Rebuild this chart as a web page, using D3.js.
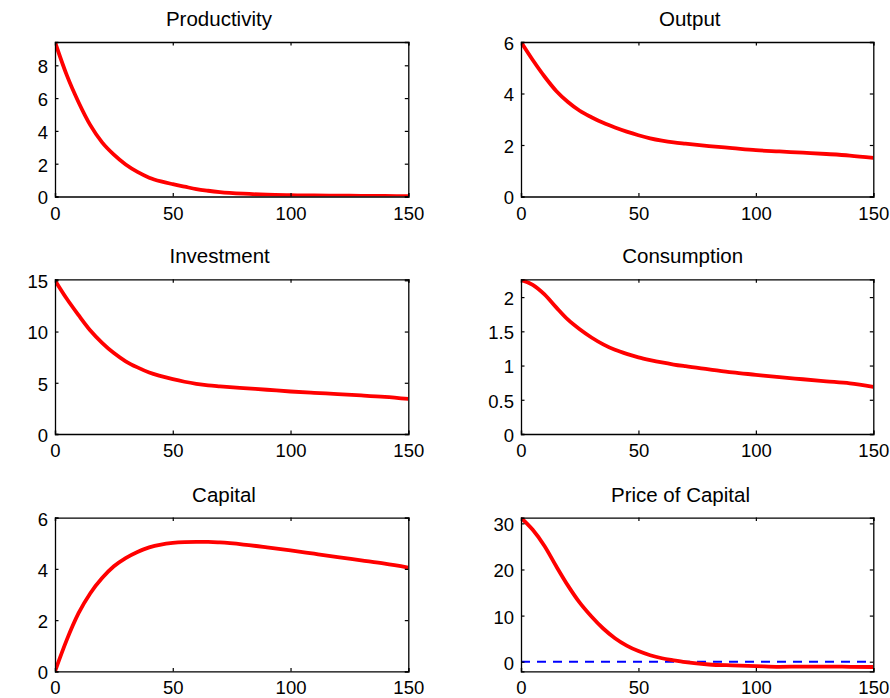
<!DOCTYPE html>
<html>
<head>
<meta charset="utf-8">
<script src="https://cdn.jsdelivr.net/npm/d3@7"></script>
<style>
  html, body { margin: 0; padding: 0; background: #fff; }
  svg { display: block; }
  text { font-family: "Liberation Sans", Arial, Helvetica, sans-serif; fill: #000; }
</style>
</head>
<body>
<svg id="chart" width="890" height="698"></svg>
<script>
// ---- Data ----
const periods = [0, 5, 10, 15, 20, 25, 30, 35, 40, 45, 50, 55, 60, 65, 70, 80, 90, 100, 110, 120, 130, 140, 150];

const productivity = [9.42, 7.4, 5.75, 4.35, 3.3, 2.55, 1.95, 1.5, 1.15, 0.92, 0.75, 0.6, 0.45, 0.35, 0.27, 0.17, 0.11, 0.08, 0.06, 0.05, 0.04, 0.03, 0.02];
const output       = [6.0, 5.3, 4.66, 4.1, 3.67, 3.33, 3.08, 2.86, 2.68, 2.52, 2.38, 2.26, 2.17, 2.1, 2.05, 1.96, 1.88, 1.8, 1.75, 1.7, 1.65, 1.59, 1.5];
const investment   = [15.0, 13.2, 11.6, 10.1, 8.9, 7.9, 7.1, 6.5, 6.0, 5.65, 5.35, 5.1, 4.9, 4.75, 4.65, 4.48, 4.32, 4.15, 4.02, 3.9, 3.77, 3.62, 3.42];
const consumption  = [2.25, 2.18, 2.04, 1.85, 1.67, 1.53, 1.41, 1.31, 1.23, 1.17, 1.12, 1.08, 1.045, 1.015, 0.99, 0.945, 0.9, 0.865, 0.83, 0.8, 0.77, 0.74, 0.69];
const capital      = [0.0, 1.23, 2.27, 3.05, 3.64, 4.1, 4.42, 4.66, 4.84, 4.95, 5.01, 5.04, 5.05, 5.05, 5.03, 4.95, 4.84, 4.72, 4.59, 4.46, 4.33, 4.2, 4.05];
const priceCapital = [31.2, 28.6, 25.1, 20.7, 16.5, 12.8, 9.8, 7.2, 5.1, 3.5, 2.3, 1.4, 0.75, 0.3, -0.1, -0.6, -0.8, -0.95, -1.1, -1.05, -1.05, -1.1, -1.15];

const titles = ["Productivity", "Output", "Investment", "Consumption", "Capital", "Price of Capital"];
const seriesList = [productivity, output, investment, consumption, capital, priceCapital];
const yDomains = [[0, 9.42], [0, 6.0], [0, 15.1], [0, 2.26], [0, 6.0], [-2.1, 31.25]];
const yTickValues = [[0, 2, 4, 6, 8], [0, 2, 4, 6], [0, 5, 10, 15], [0, 0.5, 1, 1.5, 2], [0, 2, 4, 6], [0, 10, 20, 30]];
const xTickValues = [0, 50, 100, 150];
const zeroLinePanel = 5;

// ---- Layout ----
const colX = [[55, 408.3], [521, 873.3]];
const rowY = [[42, 196.5], [279.3, 434], [517.6, 671.4]];

const svg = d3.select("#chart");
const tickLen = 3.5;
const tickFont = '"Liberation Sans Narrow", "Liberation Sans", Arial, sans-serif';

seriesList.forEach((data, i) => {
  const col = i % 2, row = Math.floor(i / 2);
  const [x0, x1] = colX[col];
  const [y0, y1] = rowY[row];

  const x = d3.scaleLinear().domain([0, 150]).range([x0, x1]);
  const y = d3.scaleLinear().domain(yDomains[i]).range([y1, y0]);

  const g = svg.append("g");

  const clipId = "clip" + i;
  g.append("clipPath").attr("id", clipId)
    .append("rect").attr("x", x0).attr("y", y0).attr("width", x1 - x0).attr("height", y1 - y0);

  if (i === zeroLinePanel) {
    g.append("line")
      .attr("x1", x(0)).attr("x2", x(150))
      .attr("y1", y(0)).attr("y2", y(0))
      .attr("stroke", "#0000ff").attr("stroke-width", 2)
      .attr("stroke-dasharray", "9,7");
  }

  const line = d3.line()
    .x((d, k) => x(periods[k]))
    .y(d => y(d))
    .curve(d3.curveMonotoneX);

  g.append("path")
    .datum(data)
    .attr("d", line)
    .attr("fill", "none")
    .attr("stroke", "#ff0000")
    .attr("stroke-width", 3.8)
    .attr("stroke-linejoin", "round")
    .attr("clip-path", `url(#${clipId})`);

  const axBottom = d3.axisBottom(x).tickValues(xTickValues).tickSize(-tickLen).tickPadding(0).tickFormat(d3.format("d"));
  const axTop = d3.axisTop(x).tickValues(xTickValues).tickSize(-tickLen).tickFormat("");
  const axLeft = d3.axisLeft(y).tickValues(yTickValues[i]).tickSize(-tickLen).tickPadding(7).tickFormat(d => d3.format("")(d));
  const axRight = d3.axisRight(y).tickValues(yTickValues[i]).tickSize(-tickLen).tickFormat("");

  const gb = g.append("g").attr("transform", `translate(0,${y1})`).call(axBottom);
  const gt = g.append("g").attr("transform", `translate(0,${y0})`).call(axTop);
  const gl = g.append("g").attr("transform", `translate(${x0},0)`).call(axLeft);
  const gr = g.append("g").attr("transform", `translate(${x1},0)`).call(axRight);

  [gb, gt, gl, gr].forEach(a => {
    a.select(".domain").attr("stroke", "#000").attr("stroke-width", 1.3);
    a.selectAll(".tick line").attr("stroke", "#000").attr("stroke-width", 1.2);
    a.selectAll("text").style("font-size", "18.5px").style("font-family", tickFont).attr("fill", "#000");
  });
  gb.selectAll("text").attr("y", 23).attr("dy", 0);
  gl.selectAll("text").attr("dy", "0.4em");

  const cx = (x0 + x1) / 2;
  const t = g.append("text")
    .attr("x", cx).attr("y", y0 - 16)
    .attr("text-anchor", "middle")
    .style("font-size", "20.5px")
    .text(titles[i]);
  const w = t.node().getComputedTextLength();
  t.attr("x", cx - 0.12 * w);
});
</script>
</body>
</html>
